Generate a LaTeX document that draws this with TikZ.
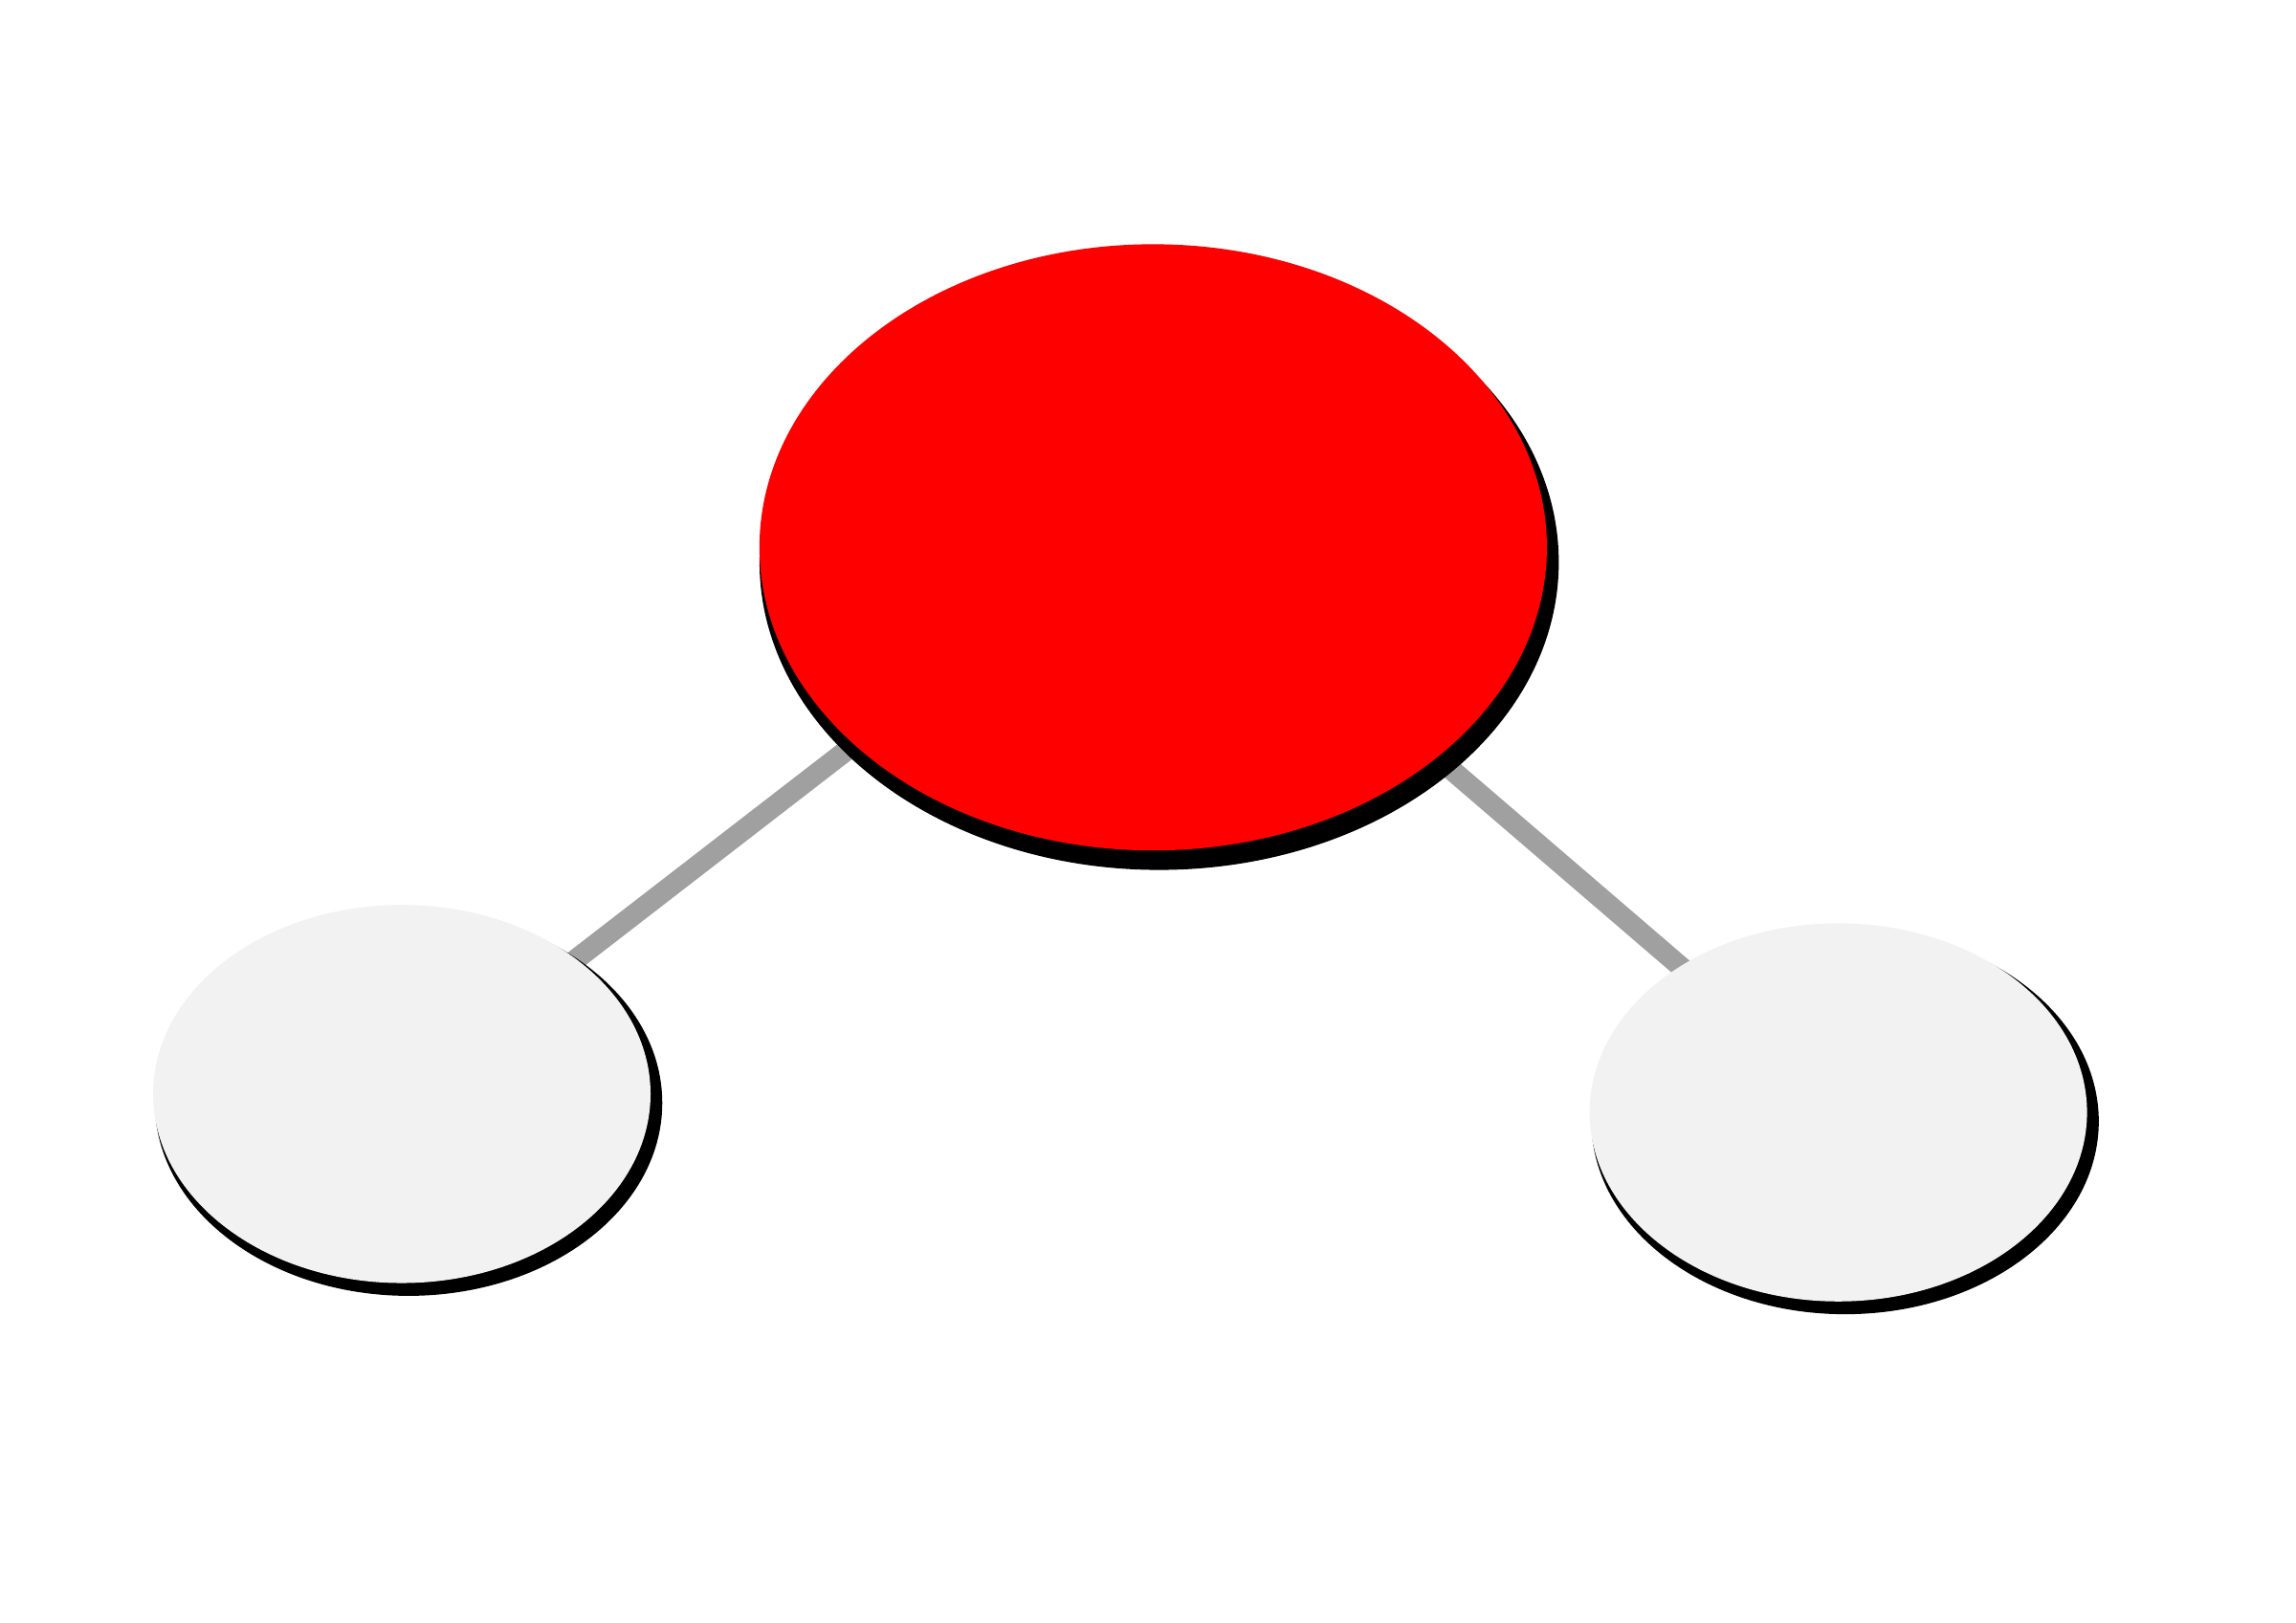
\documentclass[tikz,border=0pt]{standalone}
\usetikzlibrary{shapes.geometric,shadows,backgrounds}
\definecolor{oxyred}{HTML}{FF0000}
\definecolor{hydgrey}{HTML}{F2F2F2}
\definecolor{bondgrey}{HTML}{A0A0A0}
\tikzset{
    atom/.style={ellipse,inner sep=0pt,draw=none},
    oxygen/.style={atom,fill=oxyred,minimum width=5.35cm,minimum height=4.12cm,
        general shadow={fill=black,shadow xshift=0.04cm,shadow yshift=-0.10cm,shadow scale=1.015}},
    hydrogen/.style={atom,fill=hydgrey,minimum width=3.38cm,minimum height=2.57cm,
        general shadow={fill=black,shadow xshift=0.045cm,shadow yshift=-0.06cm,shadow scale=1.02}},
    bond/.style={bondgrey,line width=4pt}
}
\begin{document}
\begin{tikzpicture}
\useasboundingbox (0,0) rectangle (15.6,11.03);
\node[oxygen] (O) at (7.835,7.31) {};
\node[hydrogen] (H1) at (2.73,3.595) {};
\node[hydrogen] (H2) at (12.49,3.47) {};
\coordinate (Obond) at ([yshift=0.23cm]O.center);
\begin{pgfonlayer}{background}
\draw[bond]
    (H1.center) -- (Obond)
    (Obond) -- ([yshift=0.07cm]H2.center)
;\end{pgfonlayer}
\end{tikzpicture}
\end{document}
